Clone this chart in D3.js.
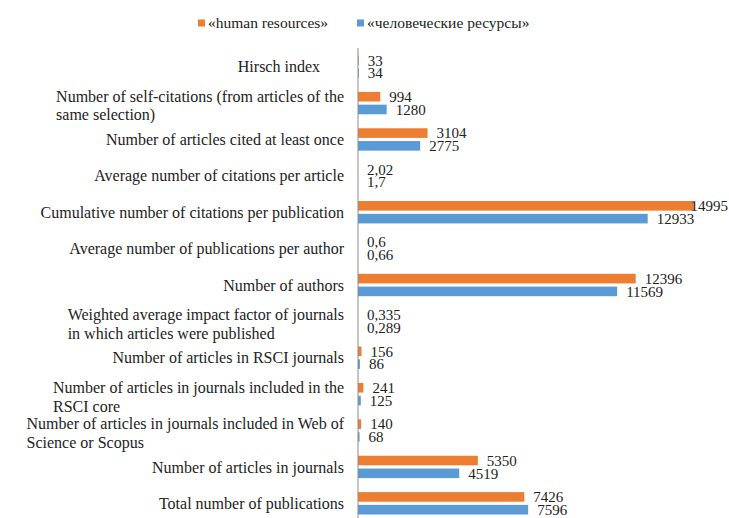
<!DOCTYPE html>
<html>
<head>
<meta charset="utf-8">
<script src="https://cdn.jsdelivr.net/npm/d3@7"></script>
<style>
  html, body { margin: 0; padding: 0; background: #fff; }
  svg text { font-family: "Times New Roman", "Liberation Serif", "DejaVu Serif", serif; }
</style>
</head>
<body>
<svg id="chart" width="729" height="518"></svg>
<script>
// Bibliometric indicators, listed top to bottom
const categories = [
  "Hirsch index\u00a0\u00a0\u00a0\u00a0\u00a0\u00a0",
  "Number of self-citations (from articles of the\nsame selection)",
  "Number of articles cited at least once",
  "Average number of citations per article",
  "Cumulative number of citations per publication",
  "Average number of publications per author",
  "Number of authors",
  "Weighted average impact factor of journals\nin which articles were published",
  "Number of articles in RSCI journals",
  "Number of articles in journals included in the\nRSCI core",
  "Number of articles in journals included in Web of\nScience or Scopus",
  "Number of articles in journals",
  "Total number of publications"
];

const seriesNames = ["«human resources»", "«человеческие ресурсы»"];
const seriesColors = ["#ED7D31", "#5B9BD5"];

const humanResources = [33, 994, 3104, 2.02, 14995, 0.6, 12396, 0.335, 156, 241, 140, 5350, 7426];
const chelovecheskieResursy = [34, 1280, 2775, 1.7, 12933, 0.66, 11569, 0.289, 86, 125, 68, 4519, 7596];

const xMax = 15000;
const serif = "'Times New Roman', 'Liberation Serif', 'DejaVu Serif', serif";

const series = [humanResources, chelovecheskieResursy];
const rows = categories.map((c, i) => ({
  key: i,
  label: c,
  values: series.map((s, j) => ({ series: j, value: s[i] }))
}));

const svg = d3.select("#chart");
const axisX = 358;

const x = d3.scaleLinear().domain([0, xMax]).range([axisX, axisX + 336]);
const y = d3.scaleBand().domain(rows.map(r => r.key)).range([48.5, 521.5]).padding(0);
const ySub = d3.scaleBand().domain([0, 1]).range([7, y.bandwidth() - 7]).paddingInner(0.25);

const fmt = v => String(v).replace(".", ",");

// Bars and value labels
const groups = svg.append("g").selectAll("g")
  .data(rows)
  .join("g")
  .attr("transform", d => `translate(0,${y(d.key)})`);

groups.selectAll("rect")
  .data(d => d.values)
  .join("rect")
  .attr("x", x(0))
  .attr("y", d => ySub(d.series))
  .attr("width", d => x(d.value) - x(0))
  .attr("height", ySub.bandwidth())
  .attr("fill", d => seriesColors[d.series]);

groups.selectAll("text.val")
  .data(d => d.values)
  .join("text")
  .attr("class", "val")
  .attr("font-family", serif)
  .attr("x", d => x(d.value) + 9)
  .attr("y", d => ySub(d.series) + ySub.bandwidth() / 2)
  .attr("dy", "0.35em")
  .attr("font-size", 15)
  .attr("fill", "#222")
  .text(d => fmt(d.value))
  .each(function () {
    // keep labels inside the drawing area
    const w = this.getComputedTextLength();
    const cur = +this.getAttribute("x");
    if (cur + w > 728) this.setAttribute("x", 728 - w);
  });

// Vertical category axis line
svg.append("line")
  .attr("x1", axisX).attr("x2", axisX)
  .attr("y1", 48).attr("y2", 518)
  .attr("stroke", "#8c8c8c")
  .attr("stroke-width", 1);

// Category labels: block right-aligned, wrapped lines left-aligned
const labelRight = 344;
const lineH = 18.5;
const labels = svg.append("g").selectAll("text")
  .data(rows)
  .join("text")
  .attr("font-family", serif)
  .attr("font-size", 16)
  .attr("fill", "#222")
  .attr("xml:space", "preserve")
  .style("white-space", "pre");

labels.each(function (d) {
  const lines = d.label.split("\n");
  const t = d3.select(this);
  const cy = y(d.key) + y.bandwidth() / 2 + (lines.length > 1 ? 2.5 : 0);
  const top = cy - (lines.length - 1) * lineH / 2;
  const spans = lines.map((ln, i) =>
    t.append("tspan").attr("y", top + i * lineH).attr("dy", "0.35em").text(ln));
  const w = d3.max(spans, s => s.node().getComputedTextLength());
  spans.forEach(s => s.attr("x", labelRight - w));
});

// Legend
const legend = svg.append("g").attr("transform", "translate(0,23)");
const legendX = [198, 357];
seriesNames.forEach((name, i) => {
  legend.append("rect")
    .attr("x", legendX[i]).attr("y", -3.5)
    .attr("width", 7).attr("height", 7)
    .attr("fill", seriesColors[i]);
  legend.append("text")
    .attr("font-family", serif)
    .attr("x", legendX[i] + 10).attr("y", 0)
    .attr("dy", "0.35em")
    .attr("font-size", 15.5)
    .attr("fill", "#222")
    .text(name);
});
</script>
</body>
</html>
